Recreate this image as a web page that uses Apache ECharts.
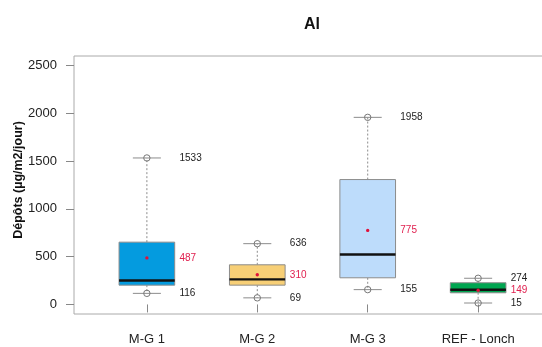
<!DOCTYPE html>
<html>
<head>
<meta charset="utf-8">
<script src="https://cdn.jsdelivr.net/npm/echarts@6/dist/echarts.min.js"></script>
<style>
html,body{margin:0;padding:0;background:#fff;}
#chart{width:542px;height:347px;}
</style>
</head>
<body>
<div id="chart"></div>
<script>
const categories = ['M-G 1', 'M-G 2', 'M-G 3', 'REF - Lonch'];
const minVals    = [116, 69, 155, 15];
const q1Vals     = [202, 202, 279, 122];
const medianVals = [251, 262, 523, 154];
const q3Vals     = [652, 415, 1307, 227];
const maxVals    = [1533, 636, 1958, 274];
const meanVals   = [487, 310, 775, 149];
const yTicks     = [0, 500, 1000, 1500, 2000, 2500];
const xPositions = [1, 2, 3, 4];

const boxColors = ['#049BDF', '#F7CF76', '#BDDCFB', '#00A651'];
const FONT = "'Liberation Sans', Arial, Helvetica, sans-serif";

const data = categories.map((_, k) => [xPositions[k], minVals[k], q1Vals[k], medianVals[k], q3Vals[k], maxVals[k], meanVals[k]]);

function renderItem(params, api) {
  const x = api.value(0);
  const pMin = api.coord([x, api.value(1)]);
  const pQ1 = api.coord([x, api.value(2)]);
  const pMed = api.coord([x, api.value(3)]);
  const pQ3 = api.coord([x, api.value(4)]);
  const pMax = api.coord([x, api.value(5)]);
  const pMean = api.coord([x, api.value(6)]);
  const halfBox = api.size([0.252, 0])[0];
  const halfCap = api.size([0.127, 0])[0];
  const labelOff = api.size([0.295, 0])[0];
  const cx = pMed[0];
  const grey = '#8c8c8c';
  const lineStyle = { stroke: grey, lineWidth: 1, lineDash: [2, 2] };
  const txt = (y, val, color) => ({
    type: 'text',
    style: { x: cx + labelOff, y: y, text: String(val), fill: color, font: '10px ' + FONT, textAlign: 'left', textVerticalAlign: 'middle' }
  });
  return {
    type: 'group',
    children: [
      { type: 'line', shape: { x1: cx, y1: pQ3[1], x2: cx, y2: pMax[1] }, style: lineStyle },
      { type: 'line', shape: { x1: cx, y1: pQ1[1], x2: cx, y2: pMin[1] }, style: lineStyle },
      { type: 'line', shape: { x1: cx - halfCap, y1: pMax[1], x2: cx + halfCap, y2: pMax[1] }, style: { stroke: grey, lineWidth: 1 } },
      { type: 'line', shape: { x1: cx - halfCap, y1: pMin[1], x2: cx + halfCap, y2: pMin[1] }, style: { stroke: grey, lineWidth: 1 } },
      { type: 'rect', shape: { x: cx - halfBox, y: pQ3[1], width: 2 * halfBox, height: pQ1[1] - pQ3[1] }, style: { fill: boxColors[params.dataIndex], stroke: grey, lineWidth: 1 } },
      { type: 'line', shape: { x1: cx - halfBox, y1: pMed[1], x2: cx + halfBox, y2: pMed[1] }, style: { stroke: '#111', lineWidth: 2.4 } },
      { type: 'circle', shape: { cx: cx, cy: pMax[1], r: 3.2 }, style: { fill: 'none', stroke: '#777', lineWidth: 1 } },
      { type: 'circle', shape: { cx: cx, cy: pMin[1], r: 3.2 }, style: { fill: 'none', stroke: '#777', lineWidth: 1 } },
      { type: 'circle', shape: { cx: cx, cy: pMean[1], r: 1.7 }, style: { fill: '#E0103A' } },
      txt(pMax[1], api.value(5), '#222'),
      txt(pMin[1], api.value(1), '#222'),
      txt(pMean[1], api.value(6), '#E0204F')
    ]
  };
}

const chart = echarts.init(document.getElementById('chart'), null, { renderer: 'canvas' });
chart.setOption({
  animation: false,
  backgroundColor: '#fff',
  title: {
    text: 'Al', left: 307, top: 12, textAlign: 'center',
    textStyle: { fontFamily: FONT, fontSize: 16, fontWeight: 'bold', color: '#111' }
  },
  grid: {
    left: 74, top: 56, width: 477, height: 258,
    show: true, borderColor: '#aaaaaa', borderWidth: 1, backgroundColor: 'transparent',
    outerBoundsMode: 'none', containLabel: false
  },
  xAxis: {
    type: 'value', min: 0.34, max: 4.66,
    splitLine: { show: false },
    axisLine: { show: false },
    axisTick: { show: true, customValues: xPositions, length: 8, lineStyle: { color: '#888' } },
    axisLabel: {
      customValues: xPositions, margin: 19,
      formatter: v => categories[Math.round(v) - 1] || '',
      fontFamily: FONT, fontSize: 13, color: '#222'
    }
  },
  yAxis: {
    type: 'value', min: -100, max: 2600,
    name: 'Dépôts (µg/m2/jour)', nameLocation: 'middle', nameGap: 49, nameRotate: 90,
    nameMoveOverlap: false,
    nameTextStyle: { fontFamily: FONT, fontSize: 12.5, fontWeight: 'bold', color: '#111', padding: [0, 0, 0, 10] },
    splitLine: { show: false },
    axisLine: { show: false },
    axisTick: { show: true, customValues: yTicks, length: 8, lineStyle: { color: '#888' } },
    axisLabel: { customValues: yTicks, margin: 17, formatter: v => String(v), fontFamily: FONT, fontSize: 13, color: '#222' }
  },
  series: [{
    type: 'custom',
    renderItem: renderItem,
    encode: { x: 0, y: [1, 2, 3, 4, 5, 6] },
    data: data,
    clip: false
  }]
});
</script>
</body>
</html>
